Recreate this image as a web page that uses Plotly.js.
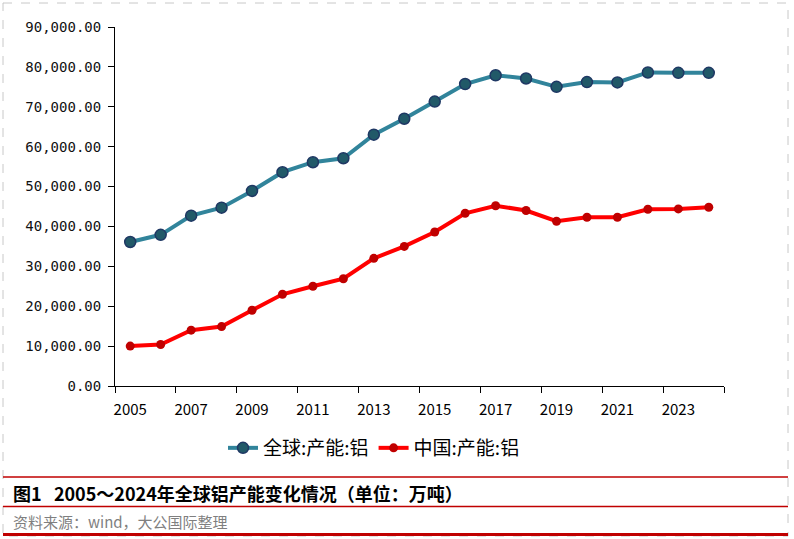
<!DOCTYPE html>
<html>
<head>
<meta charset="utf-8">
<script src="https://cdn.plot.ly/plotly-3.0.1.min.js"></script>
<style>
html,body{margin:0;padding:0;background:#fff;}
#chart{width:794px;height:539px;}
</style>
</head>
<body>
<div id="chart"></div>
<script>
// ---- data ----
var years = [2005,2006,2007,2008,2009,2010,2011,2012,2013,2014,2015,2016,2017,2018,2019,2020,2021,2022,2023,2024];
var globalCap = [36100,37900,42700,44700,48900,53600,56100,57100,63000,67000,71300,75700,77900,77100,75000,76200,76100,78600,78500,78500];
var chinaCap = [10000,10400,14000,14900,19000,23000,25000,26900,32000,35000,38600,43300,45200,44000,41300,42300,42300,44300,44400,44800];
var labelYears = [2005,2007,2009,2011,2013,2015,2017,2019,2021,2023];
var seriesNames = ['全球:产能:铝','中国:产能:铝'];
var captionText = '图1&nbsp;&nbsp;&nbsp;2005～2024年全球铝产能变化情况（单位：万吨）';
var sourceText = '资料来源：wind，大公国际整理';

// ---- layout helpers (pixel -> paper) ----
var W = 794, H = 539, L = 115, R = 724, T = 27, B = 386;
function px(x){ return (x - L) / (R - L); }
function py(y){ return (B - y) / (B - T); }

var boundaryTicks = [];
for (var i = 0; i < years.length; i += 2) boundaryTicks.push(years[i] - 0.5);
boundaryTicks.push(years[years.length-1] + 0.5);

var traces = [
  {
    x: years, y: globalCap, name: seriesNames[0], type: 'scatter', mode: 'lines+markers',
    line: {color: '#31849B', width: 4},
    marker: {color: '#215968', size: 11, line: {color: '#1F3864', width: 1.5}}
  },
  {
    x: years, y: chinaCap, name: seriesNames[1], type: 'scatter', mode: 'lines+markers',
    line: {color: '#FF0000', width: 4},
    marker: {color: '#C00000', size: 9, line: {color: '#C00000', width: 0}}
  }
];

var redLine = '#C00000';
var layout = {
  width: W, height: H,
  margin: {l: L, r: W - R, t: T, b: H - B, pad: 0},
  paper_bgcolor: '#fff', plot_bgcolor: '#fff',
  showlegend: true,
  legend: {
    orientation: 'h', x: px(223), xanchor: 'left', y: py(448), yanchor: 'middle',
    font: {family: 'Noto Sans CJK SC', size: 19, color: '#000'},
    bgcolor: 'rgba(0,0,0,0)', itemwidth: 30, tracegroupgap: 0
  },
  xaxis: {
    type: 'linear', range: [years[0] - 0.5, years[years.length-1] + 0.5],
    tickmode: 'array', tickvals: labelYears, ticktext: labelYears.map(String),
    ticks: 'outside', ticklen: 0, tickcolor: '#000',
    ticklabelstandoff: 10,
    showline: true, linecolor: '#000', linewidth: 1,
    showgrid: false, zeroline: false,
    tickfont: {family: 'Noto Sans CJK SC', size: 15, color: '#000'},
    minor: {tickmode: 'array', tickvals: boundaryTicks, ticks: 'outside', ticklen: 6, tickcolor: '#000', tickwidth: 1, showgrid: false},
    fixedrange: true
  },
  yaxis: {
    range: [0, 90000], tickmode: 'linear', tick0: 0, dtick: 10000,
    tickformat: ',.2f',
    ticks: 'outside', ticklen: 6, tickcolor: '#000',
    ticklabelstandoff: 4,
    showline: true, linecolor: '#000', linewidth: 1,
    showgrid: false, zeroline: false,
    tickfont: {family: 'DejaVu Sans Mono', size: 14, color: '#111'},
    fixedrange: true
  },
  shapes: [
    {type: 'rect', xref: 'paper', yref: 'paper', x0: px(3), x1: px(788), y0: py(3), y1: py(536),
     line: {color: '#c8c8c8', width: 1, dash: 'dash'}, fillcolor: 'rgba(0,0,0,0)', layer: 'below'},
    {type: 'line', xref: 'paper', yref: 'paper', x0: px(3), x1: px(788), y0: py(477), y1: py(477),
     line: {color: redLine, width: 1.5}},
    {type: 'line', xref: 'paper', yref: 'paper', x0: px(3), x1: px(788), y0: py(506.5), y1: py(506.5),
     line: {color: redLine, width: 1.5}},
    {type: 'line', xref: 'paper', yref: 'paper', x0: px(3), x1: px(788), y0: py(534.5), y1: py(534.5),
     line: {color: redLine, width: 3}}
  ],
  annotations: [
    {xref: 'paper', yref: 'paper', x: px(11), y: py(493), xanchor: 'left', yanchor: 'middle',
     text: '<b>' + captionText + '</b>', showarrow: false,
     font: {family: 'Noto Sans CJK SC', size: 18, color: '#000'}},
    {xref: 'paper', yref: 'paper', x: px(11), y: py(521), xanchor: 'left', yanchor: 'middle',
     text: sourceText, showarrow: false,
     font: {family: 'Noto Sans CJK SC', size: 15, color: '#7F7F7F'}}
  ]
};

Plotly.newPlot('chart', traces, layout, {staticPlot: true, displayModeBar: false});
</script>
</body>
</html>
